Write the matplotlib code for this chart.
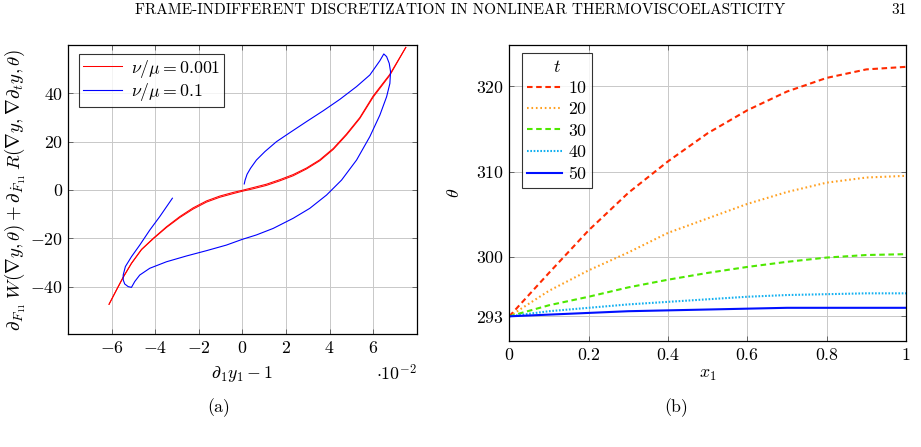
import matplotlib
matplotlib.use("Agg")
import matplotlib.pyplot as plt
from matplotlib.ticker import FixedLocator, FuncFormatter

plt.rcParams['font.family'] = ['cmr10', 'DejaVu Serif']
plt.rcParams['mathtext.fontset'] = 'cm'
plt.rcParams['axes.formatter.use_mathtext'] = True
plt.rcParams['lines.scale_dashes'] = False
plt.rcParams['axes.unicode_minus'] = True

# ---------------- data: panel (a) ----------------
# x in units of 1e-2
red_up_x = [-6.13, -5.79, -5.48, -5.10, -4.64, -4.10, -3.49, -2.88, -2.27, -1.65, -1.04, -0.43, 0.0,
            0.49, 1.10, 1.72, 2.33, 2.94, 3.55, 4.17, 4.78, 5.39, 6.0, 6.77, 7.5]
red_up_y = [-47.3, -41.4, -36.1, -30.3, -24.6, -20.0, -15.2, -11.0, -7.4, -4.5, -2.5, -1.0, -0.1,
            1.0, 2.4, 4.3, 6.4, 9.1, 12.5, 17.2, 23.2, 30.0, 38.9, 47.9, 59.0]
red_down_x = [7.5, 6.77, 6.0, 5.39, 4.78, 4.17, 3.55, 2.94, 2.33, 1.72, 1.10, 0.49, 0.0, -0.43, -1.04,
              -1.65, -2.27, -2.88, -3.49, -4.10, -4.64, -5.10, -5.48, -5.79, -6.13]
red_down_y = [59.0, 47.5, 38.4, 29.6, 22.8, 16.8, 12.1, 8.7, 5.9, 3.8, 1.9, 0.5, -0.5, -1.5, -3.0,
              -5.0, -7.9, -11.4, -15.5, -20.2, -24.7, -30.4, -36.1, -41.4, -47.3]

blue_x = [0.08, 0.12, 0.21, 0.37, 0.64, 1.03, 1.56, 2.17, 2.94, 3.71, 4.47, 5.24, 5.85, 6.31, 6.49,
          6.62, 6.74, 6.80, 6.77, 6.62, 6.31, 5.85, 5.24, 4.55, 3.86, 3.09, 2.33, 1.41, 0.64, 0.0,
          -0.74, -1.65, -2.57, -3.49, -4.26, -4.72, -4.95, -5.10, -5.25, -5.41, -5.48, -5.48, -5.38,
          -5.10, -4.72, -4.26, -3.80, -3.22]
blue_y = [2.5, 4.1, 6.5, 9.0, 12.4, 15.9, 20.0, 23.7, 28.3, 32.8, 37.5, 42.8, 47.6, 53.5, 56.3,
          55.2, 52.4, 49.0, 44.1, 38.6, 31.0, 22.1, 12.4, 4.1, -2.1, -7.6, -11.7, -15.9, -18.6, -20.4,
          -22.8, -25.1, -27.3, -29.7, -32.4, -35.2, -37.9, -40.3, -40.0, -38.9, -37.2, -35.2, -31.7,
          -27.6, -22.8, -16.6, -11.0, -3.4]

xticks_a = [-6, -4, -2, 0, 2, 4, 6]
yticks_a = [-40, -20, 0, 20, 40]

# ---------------- data: panel (b) ----------------
x1 = [0.0, 0.1, 0.2, 0.3, 0.4, 0.5, 0.6, 0.7, 0.8, 0.9, 1.0]
theta_t10 = [293.0, 298.1, 303.1, 307.5, 311.2, 314.5, 317.2, 319.4, 321.0, 322.0, 322.3]
theta_t20 = [293.0, 296.0, 298.4, 300.5, 302.8, 304.5, 306.2, 307.6, 308.7, 309.3, 309.5]
theta_t30 = [293.0, 294.3, 295.3, 296.4, 297.3, 298.1, 298.8, 299.4, 299.9, 300.2, 300.3]
theta_t40 = [293.0, 293.6, 294.0, 294.4, 294.7, 295.0, 295.3, 295.5, 295.6, 295.7, 295.7]
theta_t50 = [293.0, 293.2, 293.4, 293.6, 293.7, 293.8, 293.9, 294.0, 294.0, 294.0, 294.0]
t_labels = ['10', '20', '30', '40', '50']
xticks_b = [0, 0.2, 0.4, 0.6, 0.8, 1.0]
xticklabels_b = ['0', '0.2', '0.4', '0.6', '0.8', '1']
yticks_b = [293, 300, 310, 320]

fig = plt.figure(figsize=(9.21, 4.47), dpi=100)

FS = 12.8
grid_kw = dict(color='#c8c8c8', linewidth=0.7)


def style_axes(ax):
    ax.grid(True, **grid_kw)
    ax.set_axisbelow(True)
    for s in ax.spines.values():
        s.set_linewidth(0.9)
        s.set_color('black')
    ax.tick_params(direction='in', length=3.5, width=0.6, color='#555555',
                   top=True, right=True, labelsize=FS, pad=4)


# ---- panel (a)
axa = fig.add_axes([0.0742, 0.2528, 0.3782, 0.6465])
style_axes(axa)
axa.plot(red_up_x, red_up_y, color='#ff0000', lw=0.75, label=r'$\nu/\mu = 0.001$')
axa.plot(red_down_x, red_down_y, color='#ff0000', lw=0.75)
axa.plot(blue_x, blue_y, color='#0000ff', lw=0.8, label=r'$\nu/\mu = 0.1$')
axa.set_xlim(-8, 8)
axa.set_ylim(-59.6, 60)
axa.xaxis.set_major_locator(FixedLocator(xticks_a))
axa.yaxis.set_major_locator(FixedLocator(yticks_a))
axa.xaxis.set_major_formatter(FuncFormatter(lambda v, p: r'$%d$' % v))
axa.yaxis.set_major_formatter(FuncFormatter(lambda v, p: r'$%d$' % v))
axa.set_xlabel(r'$\partial_1 y_1 - 1$', fontsize=FS, labelpad=6)
axa.set_ylabel(r'$\partial_{F_{11}}\, W(\nabla y, \theta) + \partial_{\dot{F}_{11}}\, R(\nabla y, \nabla \partial_t y, \theta)$',
               fontsize=13.6, labelpad=2)
axa.text(1.0, -0.10, r'$\cdot 10^{-2}$', transform=axa.transAxes, ha='right', va='top', fontsize=FS)
leg = axa.legend(loc='upper left', bbox_to_anchor=(0.032, 0.969), borderaxespad=0, fontsize=FS,
                 frameon=True, fancybox=False, edgecolor='black', handlelength=2.2, borderpad=0.2,
                 labelspacing=0.1, handletextpad=0.5)
leg.get_frame().set_linewidth(0.8)

# ---- panel (b)
axb = fig.add_axes([0.553, 0.2371, 0.4307, 0.6629])
style_axes(axb)
lw = 1.5
axb.plot(x1, theta_t10, color='#ff2a00', lw=lw, linestyle=(0, (4.0, 2.6)), label=t_labels[0])
axb.plot(x1, theta_t20, color='#ffa020', lw=lw, linestyle=(0, (1.2, 2.0)), label=t_labels[1])
axb.plot(x1, theta_t30, color='#4ee800', lw=lw, linestyle=(0, (4.0, 2.6)), label=t_labels[2])
axb.plot(x1, theta_t40, color='#12b0f0', lw=lw, linestyle=(0, (1.2, 1.2)), label=t_labels[3])
axb.plot(x1, theta_t50, color='#0010ff', lw=lw, linestyle='-', label=t_labels[4])
axb.set_xlim(0, 1)
axb.set_ylim(290.1, 324.9)
axb.xaxis.set_major_locator(FixedLocator(xticks_b))
axb.set_xticklabels([r'$%s$' % s for s in xticklabels_b])
axb.yaxis.set_major_locator(FixedLocator(yticks_b))
axb.set_yticklabels([r'$%d$' % v for v in yticks_b])
axb.set_xlabel(r'$x_1$', fontsize=FS, labelpad=4)
axb.set_ylabel(r'$\theta$', fontsize=FS, labelpad=10)
legb = axb.legend(loc='upper left', bbox_to_anchor=(0.031, 0.971), borderaxespad=0, fontsize=FS,
                  frameon=True, fancybox=False, edgecolor='black', title=r'$t$', title_fontsize=FS,
                  handlelength=2.0, borderpad=0.3, labelspacing=0.3, handletextpad=0.3, alignment='center')
legb.get_frame().set_linewidth(0.8)
for t in legb.get_texts():
    t.set_text(r'$%s$' % t.get_text())

# ---- page text
fig.text(0.5, 0.977, 'FRAME-INDIFFERENT DISCRETIZATION IN NONLINEAR THERMOVISCOELASTICITY',
         ha='center', va='center', fontsize=11)
fig.text(0.985, 0.977, '31', ha='right', va='center', fontsize=11)
fig.text(0.237, 0.087, '(a)', ha='center', va='center', fontsize=FS)
fig.text(0.734, 0.087, '(b)', ha='center', va='center', fontsize=FS)

fig.savefig('out.png', dpi=100)
